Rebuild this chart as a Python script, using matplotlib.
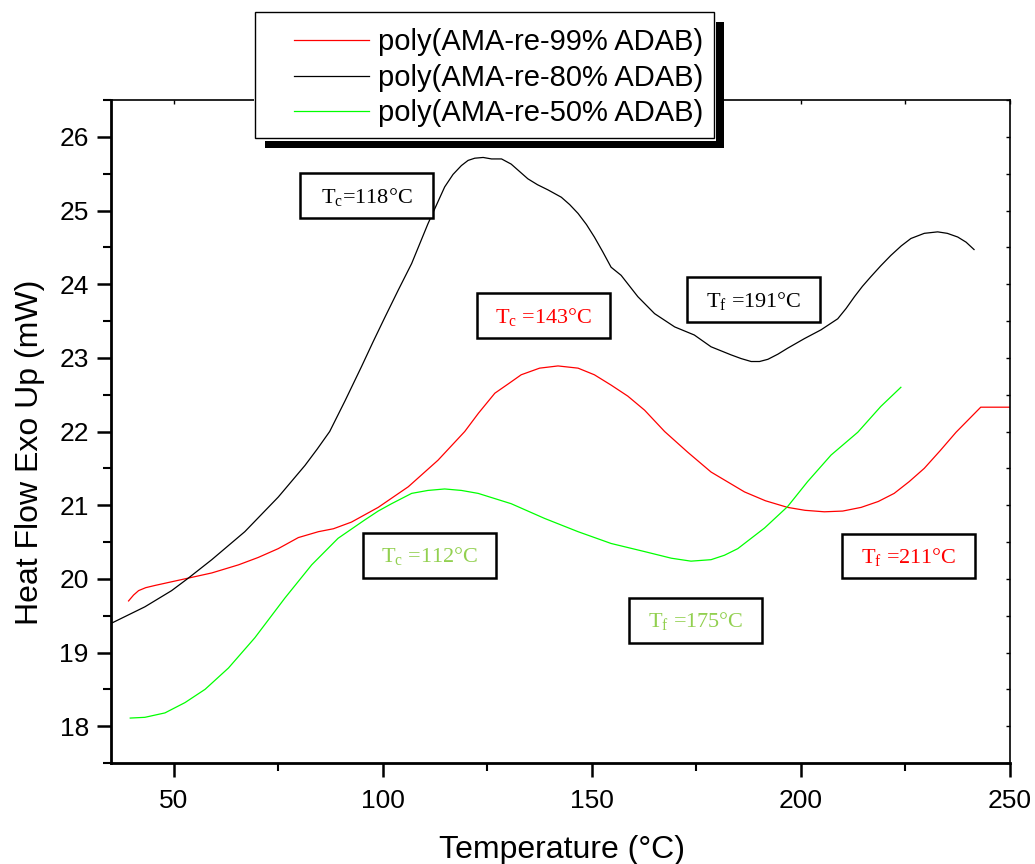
import matplotlib
matplotlib.use("Agg")
import matplotlib.pyplot as plt
from matplotlib.patches import Rectangle
from matplotlib.lines import Line2D
from matplotlib.ticker import MultipleLocator
from matplotlib.transforms import ScaledTranslation

plt.rcParams["font.family"] = ["Liberation Sans", "DejaVu Sans"]
plt.rcParams["mathtext.fontset"] = "custom"
plt.rcParams["mathtext.rm"] = "Liberation Serif"
plt.rcParams["mathtext.it"] = "Liberation Serif:italic"

# DSC traces: temperature (°C) and heat flow (mW)
temp_99 = [39.2, 40.4, 41.6, 43.3, 45.5, 52.7, 59.1, 65.5, 70.2, 75.0,
           79.8, 84.6, 88.2, 92.5, 98.9, 106.1, 113.2, 119.6, 122.9, 126.8,
           130.1, 133.1, 137.5, 141.9, 146.7, 150.6, 154.6, 158.6, 162.6, 167.4,
           172.9, 178.5, 186.5, 191.5, 196.8, 201.0, 205.6, 210.0, 214.4, 218.5,
           222.3, 225.9, 229.5, 233.3, 237.1, 243.0, 250.0]
heat_99 = [19.70, 19.78, 19.84, 19.88, 19.91, 20.00, 20.08, 20.19, 20.29, 20.41,
           20.56, 20.64, 20.68, 20.77, 20.97, 21.25, 21.61, 22.00, 22.25, 22.52,
           22.65, 22.77, 22.86, 22.89, 22.86, 22.77, 22.63, 22.48, 22.29, 22.00,
           21.72, 21.45, 21.18, 21.06, 20.97, 20.93, 20.91, 20.92, 20.97, 21.05,
           21.16, 21.32, 21.50, 21.74, 21.99, 22.33, 22.33]

temp_80 = [35.2, 43.1, 49.5, 53.5, 59.1, 67.0, 75.0, 81.4, 84.3, 87.3,
           91.0, 94.9, 97.7, 100.5, 103.7, 106.9, 110.8, 114.8, 116.8, 118.8,
           120.4, 122.0, 124.0, 126.0, 128.4, 130.7, 132.7, 134.7, 137.0, 139.5,
           142.7, 144.7, 146.7, 148.7, 150.6, 152.6, 154.6, 157.0, 161.0, 165.0,
           169.8, 174.5, 178.5, 183.3, 185.7, 188.1, 190.1, 192.1, 194.5, 196.8,
           200.8, 204.8, 208.8, 210.8, 212.8, 214.7, 216.7, 219.1, 221.5, 224.0,
           226.3, 229.5, 232.7, 235.0, 237.5, 239.5, 241.4]
heat_80 = [19.40, 19.62, 19.84, 20.01, 20.26, 20.64, 21.11, 21.54, 21.76, 22.00,
           22.42, 22.88, 23.22, 23.55, 23.92, 24.28, 24.82, 25.32, 25.49, 25.61,
           25.68, 25.71, 25.72, 25.70, 25.70, 25.63, 25.53, 25.43, 25.35, 25.28,
           25.18, 25.08, 24.96, 24.81, 24.64, 24.44, 24.23, 24.12, 23.83, 23.60,
           23.42, 23.31, 23.15, 23.04, 22.99, 22.95, 22.95, 22.98, 23.05, 23.13,
           23.26, 23.38, 23.53, 23.67, 23.83, 23.97, 24.10, 24.25, 24.39, 24.52,
           24.62, 24.69, 24.71, 24.69, 24.64, 24.57, 24.47]

temp_50 = [39.6, 43.1, 47.9, 52.7, 57.5, 63.1, 69.4, 76.6, 83.0, 89.3,
           95.7, 98.9, 102.1, 106.9, 110.8, 114.8, 118.8, 122.8, 130.7, 138.7,
           146.7, 154.6, 162.6, 169.0, 173.7, 178.5, 181.7, 184.9, 191.3, 196.8,
           201.6, 207.2, 213.6, 219.1, 223.9]
heat_50 = [18.11, 18.12, 18.18, 18.32, 18.50, 18.79, 19.20, 19.74, 20.19, 20.55,
           20.80, 20.92, 21.02, 21.16, 21.20, 21.22, 21.20, 21.16, 21.02, 20.82,
           20.64, 20.48, 20.37, 20.28, 20.24, 20.26, 20.32, 20.41, 20.69, 20.98,
           21.32, 21.68, 21.99, 22.34, 22.60]

series_labels = ["poly(AMA-re-99% ADAB)", "poly(AMA-re-80% ADAB)",
                 "poly(AMA-re-50% ADAB)"]
series_colors = ["#FF0000", "#000000", "#00FF00"]

# transition annotations: label, colour, position (°C, mW)
note_labels = [r"T$_{\rm c}$=118°C", r"T$_{\rm c}$ =143°C", r"T$_{\rm f}$ =191°C",
               r"T$_{\rm c}$ =112°C", r"T$_{\rm f}$ =175°C", r"T$_{\rm f}$ =211°C"]
note_colors = ["#000000", "#FF0000", "#000000", "#92D050", "#92D050", "#FF0000"]
note_x = [96.2, 138.5, 188.7, 111.2, 174.9, 225.7]
note_y = [25.20, 23.57, 23.79, 20.32, 19.44, 20.31]

W, H = 1035, 864
fig = plt.figure(figsize=(W / 100, H / 100), dpi=100)


def fx(px):
    return px / W


def fy(py):
    return 1 - py / H


ax = fig.add_axes([fx(111), fy(763), fx(1010) - fx(111), fy(100) - fy(763)])

for tx, hy, col in zip([temp_99, temp_80, temp_50], [heat_99, heat_80, heat_50],
                       series_colors):
    ax.plot(tx, hy, color=col, lw=0.9, zorder=2)

ax.set_xlim(35, 250)
ax.set_ylim(17.5, 26.5)
ax.xaxis.set_major_locator(MultipleLocator(50))
ax.xaxis.set_minor_locator(MultipleLocator(25))
ax.yaxis.set_major_locator(MultipleLocator(1))
ax.yaxis.set_minor_locator(MultipleLocator(0.5))
ax.tick_params(which="major", direction="out", length=10, width=1.8,
               labelsize=19)
ax.tick_params(which="minor", direction="out", length=5.5, width=1.5)
ax.tick_params(axis="x", which="major", pad=9)
ax.tick_params(axis="y", which="major", pad=6)
for side in ("left", "bottom"):
    ax.spines[side].set_linewidth(2.0)
for side in ("top", "right"):
    ax.spines[side].set_linewidth(1.2)

# inward ticks on the opposite spines
axr = ax.twinx()
axr.set_ylim(ax.get_ylim())
axr.yaxis.set_major_locator(MultipleLocator(1))
axr.yaxis.set_minor_locator(MultipleLocator(0.5))
axr.tick_params(which="both", direction="in", length=3, width=1, labelright=False)
axt = ax.twiny()
axt.set_xlim(ax.get_xlim())
axt.xaxis.set_major_locator(MultipleLocator(50))
axt.xaxis.set_minor_locator(MultipleLocator(25))
axt.tick_params(which="both", direction="in", length=3, width=1, labeltop=False)
for a in (axr, axt):
    for s in a.spines.values():
        s.set_visible(False)

ax.set_xlabel("Temperature (°C)", fontsize=23)
ax.xaxis.set_label_coords(0.502, -0.108)
ax.xaxis.label.set_va("top")
ax.set_ylabel("Heat Flow Exo Up (mW)", fontsize=23)
ax.yaxis.set_label_coords(-0.073, 0.468)

# annotation boxes
box_w, box_h = 31.8, 0.61
shift = ScaledTranslation(0, -7 / 100, fig.dpi_scale_trans)
for lab, col, x, y in zip(note_labels, note_colors, note_x, note_y):
    axt.add_patch(Rectangle((x - box_w / 2, y - box_h / 2), box_w, box_h,
                            transform=ax.transData, facecolor="white",
                            edgecolor="black", lw=1.8, zorder=3))
    axt.text(x, y, lab, transform=ax.transData + shift, color=col,
             fontsize=16, family=["Liberation Serif", "DejaVu Serif"],
             ha="center", va="baseline", zorder=4)

# legend with offset shadow
fig.add_artist(Rectangle((fx(265), fy(148)), fx(724) - fx(265), fy(22) - fy(148),
                         transform=fig.transFigure, facecolor="black",
                         edgecolor="none", zorder=5))
fig.add_artist(Rectangle((fx(254), fy(141)), fx(716) - fx(254), fy(11) - fy(141),
                         transform=fig.transFigure, facecolor="white",
                         edgecolor="none", zorder=5))
fig.add_artist(Rectangle((fx(255), fy(138)), fx(714) - fx(255), fy(12) - fy(138),
                         transform=fig.transFigure, facecolor="white",
                         edgecolor="black", lw=1.0, zorder=6))
row_line = [39.5, 76, 111]
row_base = [49.5, 86, 121]
for lab, col, yl, yb in zip(series_labels, series_colors, row_line, row_base):
    fig.add_artist(Line2D([fx(294), fx(369)], [fy(yl), fy(yl)],
                          transform=fig.transFigure, color=col, lw=0.9,
                          zorder=7))
    fig.text(fx(378), fy(yb), lab, fontsize=21, va="baseline", ha="left",
             zorder=7)

fig.savefig("out.png", dpi=100)
